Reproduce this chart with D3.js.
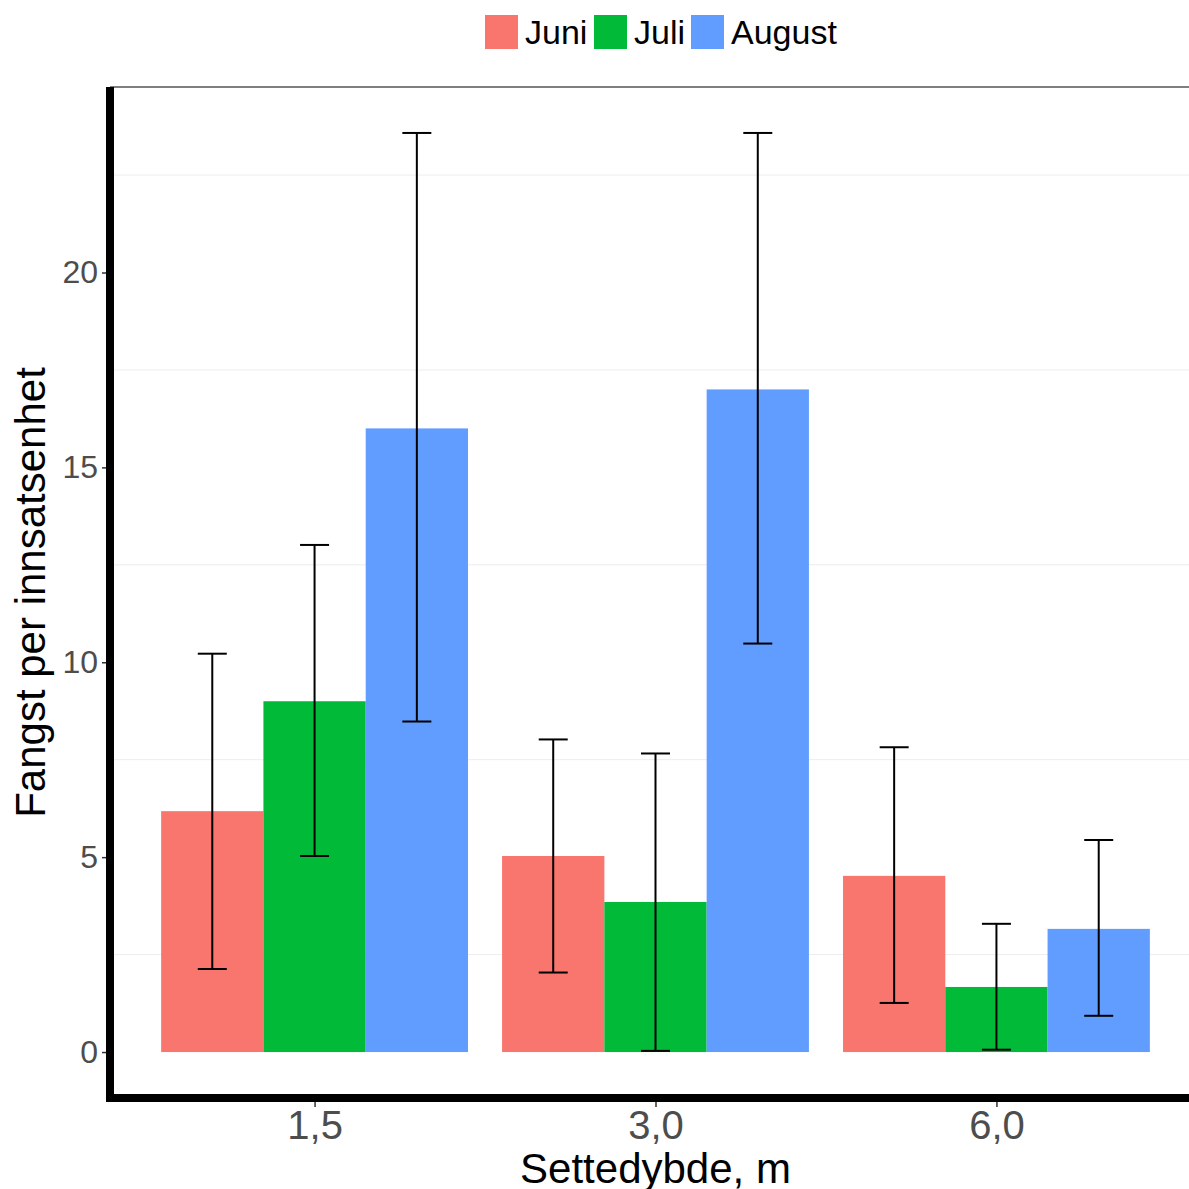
<!DOCTYPE html>
<html lang="en">
<meta charset="utf-8">
<title>Fangst per innsatsenhet</title>
<head>
<style>
  body { margin: 0; background: #fff; }
  svg { display: block; font-family: "Liberation Sans", Arial, sans-serif; }
</style>
</head>
<body>
  <script src="https://d3js.org/d3.v7.min.js"></script>
  <div id="chart"></div>
  <script>
    // data
    var depths = ["1,5", "3,0", "6,0"];
    var months = ["Juni", "Juli", "August"];
    var colors = ["#F8766D", "#00BA38", "#619CFF"];

    var juni = [6.18, 5.03, 4.52];
    var juli = [9.0, 3.85, 1.67];
    var august = [16.0, 17.0, 3.16];

    var juniLow = [2.13, 2.04, 1.26];
    var juniHigh = [10.22, 8.02, 7.82];
    var juliLow = [5.03, 0.03, 0.06];
    var juliHigh = [13.01, 7.66, 3.29];
    var augustLow = [8.48, 10.48, 0.93];
    var augustHigh = [23.58, 23.58, 5.44];

    var yTicks = [0, 5, 10, 15, 20];
    var yMinor = [2.5, 7.5, 12.5, 17.5, 22.5];

    var series = [
      { key: "Juni", values: juni, low: juniLow, high: juniHigh },
      { key: "Juli", values: juli, low: juliLow, high: juliHigh },
      { key: "August", values: august, low: augustLow, high: augustHigh }
    ];

    var W = 1189, H = 1189;
    var pLeft = 110, pRight = 1201, pTop = 87, pBottom = 1098;

    var svg = d3.select("#chart").append("svg")
      .attr("width", W).attr("height", H);

    var x = d3.scalePoint().domain(depths).range([pLeft, pRight]).padding(0.6);
    var step = x.step();
    var xInner = d3.scaleBand().domain(months).range([-0.45 * step, 0.45 * step]);
    var color = d3.scaleOrdinal().domain(months).range(colors);

    var yMax = 23.58, pad = yMax * 0.05;
    var y = d3.scaleLinear().domain([-pad, yMax + pad]).range([pBottom, pTop]);

    // minor gridlines
    svg.append("g").selectAll("line").data(yMinor).enter().append("line")
      .attr("x1", pLeft).attr("x2", W)
      .attr("y1", d => y(d)).attr("y2", d => y(d))
      .attr("stroke", "#ededed").attr("stroke-width", 1);

    // top border
    svg.append("line")
      .attr("x1", pLeft).attr("x2", W).attr("y1", pTop).attr("y2", pTop)
      .attr("stroke", "#555").attr("stroke-width", 1.5);

    // flatten rows
    var rows = [];
    series.forEach(function (s) {
      depths.forEach(function (d, i) {
        rows.push({ month: s.key, depth: d, v: s.values[i], lo: s.low[i], hi: s.high[i] });
      });
    });

    svg.append("g").selectAll("rect").data(rows).enter().append("rect")
      .attr("x", d => x(d.depth) + xInner(d.month))
      .attr("width", xInner.bandwidth())
      .attr("y", d => y(d.v))
      .attr("height", d => y(0) - y(d.v))
      .attr("fill", d => color(d.month));

    // error bars
    var capW = 29;
    var eb = svg.append("g").attr("stroke", "#000").attr("stroke-width", 2).attr("fill", "none");
    rows.forEach(function (d) {
      var cx = x(d.depth) + xInner(d.month) + xInner.bandwidth() / 2;
      eb.append("line").attr("x1", cx).attr("x2", cx).attr("y1", y(d.lo)).attr("y2", y(d.hi));
      eb.append("line").attr("x1", cx - capW / 2).attr("x2", cx + capW / 2).attr("y1", y(d.lo)).attr("y2", y(d.lo));
      eb.append("line").attr("x1", cx - capW / 2).attr("x2", cx + capW / 2).attr("y1", y(d.hi)).attr("y2", y(d.hi));
    });

    // y axis
    var yAxis = svg.append("g")
      .attr("transform", "translate(" + (pLeft - 3) + ",0)")
      .call(d3.axisLeft(y).tickValues(yTicks).tickSize(5).tickPadding(4));
    yAxis.select(".domain").remove();
    yAxis.selectAll(".tick line").attr("stroke", "#333").attr("stroke-width", 1.5);
    yAxis.selectAll(".tick text").attr("fill", "#4d4d4d").style("font-size", "32px")
      .attr("font-family", "Liberation Sans, Arial, sans-serif");

    // x axis
    var xAxis = svg.append("g")
      .attr("transform", "translate(0," + pBottom + ")")
      .call(d3.axisBottom(x).tickSize(9).tickPadding(4));
    xAxis.select(".domain").remove();
    xAxis.selectAll(".tick line").attr("stroke", "#333").attr("stroke-width", 1.5);
    xAxis.selectAll(".tick text").attr("fill", "#4d4d4d").style("font-size", "40px")
      .attr("font-family", "Liberation Sans, Arial, sans-serif");

    // thick axis lines
    svg.append("line").attr("x1", pLeft).attr("x2", pLeft).attr("y1", pTop).attr("y2", pBottom + 4)
      .attr("stroke", "#000").attr("stroke-width", 8);
    svg.append("line").attr("x1", pLeft - 4).attr("x2", W).attr("y1", pBottom).attr("y2", pBottom)
      .attr("stroke", "#000").attr("stroke-width", 8);

    // titles
    svg.append("text")
      .attr("x", (pLeft + pRight) / 2).attr("y", 1183)
      .attr("text-anchor", "middle").style("font-size", "42px").attr("fill", "#000")
      .text("Settedybde, m");
    svg.append("text")
      .attr("transform", "translate(45," + ((pTop + pBottom) / 2) + ") rotate(-90)")
      .attr("text-anchor", "middle").style("font-size", "42px").attr("fill", "#000")
      .text("Fangst per innsatsenhet");

    // legend
    var legendX = [485, 594, 691];
    var lg = svg.append("g");
    months.forEach(function (m, i) {
      lg.append("rect").attr("x", legendX[i]).attr("y", 15).attr("width", 33).attr("height", 34)
        .attr("fill", color(m));
      lg.append("text").attr("x", legendX[i] + 40).attr("y", 44)
        .style("font-size", "34px").attr("fill", "#000").text(m);
    });
  </script>
</body>
</html>
